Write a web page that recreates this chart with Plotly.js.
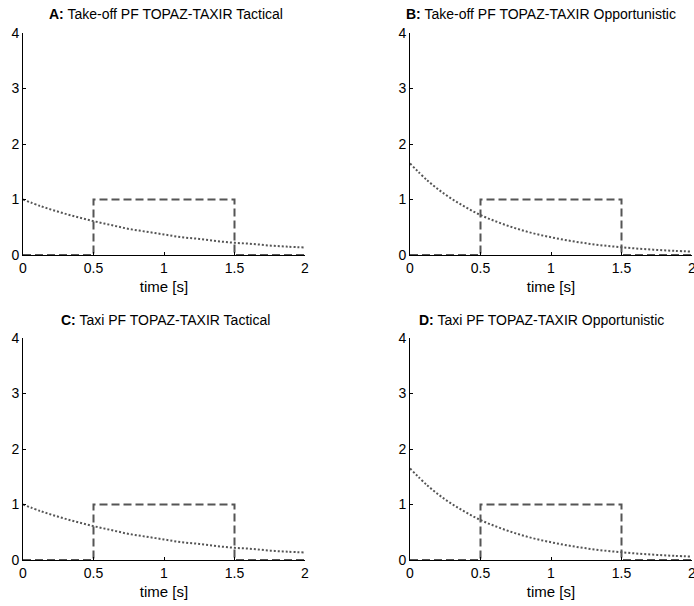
<!DOCTYPE html>
<html>
<head>
<meta charset="utf-8">
<script src="https://cdn.plot.ly/plotly-3.0.1.min.js"></script>
<style>html,body{margin:0;padding:0;background:#fff;}#chart{width:694px;height:606px;}</style>
</head>
<body>
<div id="chart"></div>
<script>
// time samples (s)
var timeValues = [0, 0.125, 0.25, 0.375, 0.5, 0.625, 0.75, 0.875, 1.0, 1.125, 1.25, 1.375, 1.5, 1.625, 1.75, 1.875, 2.0];
// dotted curves
var tacticalCurve = [1.00, 0.88, 0.78, 0.69, 0.61, 0.54, 0.47, 0.42, 0.37, 0.32, 0.29, 0.25, 0.22, 0.20, 0.17, 0.15, 0.135];
var opportunisticCurve = [1.65, 1.34, 1.09, 0.89, 0.72, 0.59, 0.48, 0.39, 0.32, 0.26, 0.21, 0.17, 0.14, 0.113, 0.092, 0.075, 0.061];
// dashed rectangular pulse
var pulseX = [0, 0.5, 0.5, 1.5, 1.5, 2];
var pulseY = [0, 0, 1, 1, 0, 0];
// panel titles
var panelLetters = ["A:", "B:", "C:", "D:"];
var panelTitles = ["Take-off PF TOPAZ-TAXIR Tactical", "Take-off PF TOPAZ-TAXIR Opportunistic", "Taxi PF TOPAZ-TAXIR Tactical", "Taxi PF TOPAZ-TAXIR Opportunistic"];
var xTicks = [0, 0.5, 1, 1.5, 2];
var xTickText = ["0", "0.5", "1", "1.5", "2"];
var yTicks = [0, 1, 2, 3, 4];
var xLabel = "time [s]";

var W = 694, H = 606;
var curves = [tacticalCurve, opportunisticCurve, tacticalCurve, opportunisticCurve];
var xDom = [[23 / W, 305 / W], [410 / W, 692 / W]];
var yDom = [[1 - 255 / H, 1 - 33 / H], [1 - 560 / H, 1 - 338 / H]];
var titleCenters = [166, 541, 165, 541];
var titleYs = [14, 320];
var lineColor = "#555555";

var data = [];
var layout = {
  width: W, height: H,
  margin: {l: 0, r: 0, t: 0, b: 0},
  paper_bgcolor: "#ffffff", plot_bgcolor: "#ffffff",
  showlegend: false,
  font: {family: "Arial, 'Liberation Sans', sans-serif", color: "#000", size: 12},
  annotations: []
};

for (var i = 0; i < 4; i++) {
  var col = i % 2, row = Math.floor(i / 2);
  var sfx = i === 0 ? "" : String(i + 1);
  data.push({
    x: pulseX, y: pulseY, type: "scatter", mode: "lines",
    xaxis: "x" + sfx, yaxis: "y" + sfx,
    line: {color: lineColor, width: 2, dash: "8px,4px"},
    hoverinfo: "skip"
  });
  data.push({
    x: timeValues, y: curves[i], type: "scatter", mode: "lines",
    xaxis: "x" + sfx, yaxis: "y" + sfx,
    line: {color: lineColor, width: 2, dash: "2px,2px", shape: "spline"},
    hoverinfo: "skip"
  });
  layout["xaxis" + sfx] = {
    domain: xDom[col], anchor: "y" + sfx, range: [0, 2],
    tickvals: xTicks, ticktext: xTickText, ticks: "inside", ticklen: 3, tickcolor: "#000",
    showline: true, linecolor: "#000", linewidth: 1, showgrid: false, zeroline: false,
    tickfont: {size: 14, color: "#000"}, ticklabeloverflow: "allow",
    title: {text: xLabel, font: {size: 15, color: "#000"}, standoff: 6},
    fixedrange: true
  };
  layout["yaxis" + sfx] = {
    domain: yDom[row], anchor: "x" + sfx, range: [0, 4],
    tickvals: yTicks, ticks: "inside", ticklen: 3, tickcolor: "#000",
    showline: true, linecolor: "#000", linewidth: 1, showgrid: false, zeroline: false,
    tickfont: {size: 14, color: "#000"}, ticklabeloverflow: "allow",
    fixedrange: true
  };
  layout.annotations.push({
    xref: "paper", yref: "paper",
    x: titleCenters[i] / W, y: 1 - titleYs[row] / H,
    xanchor: "center", yanchor: "middle", showarrow: false,
    text: "<b>" + panelLetters[i] + "</b> " + panelTitles[i],
    font: {size: 14, color: "#000"}
  });
}

Plotly.newPlot("chart", data, layout, {displayModeBar: false, staticPlot: true});
</script>
</body>
</html>
